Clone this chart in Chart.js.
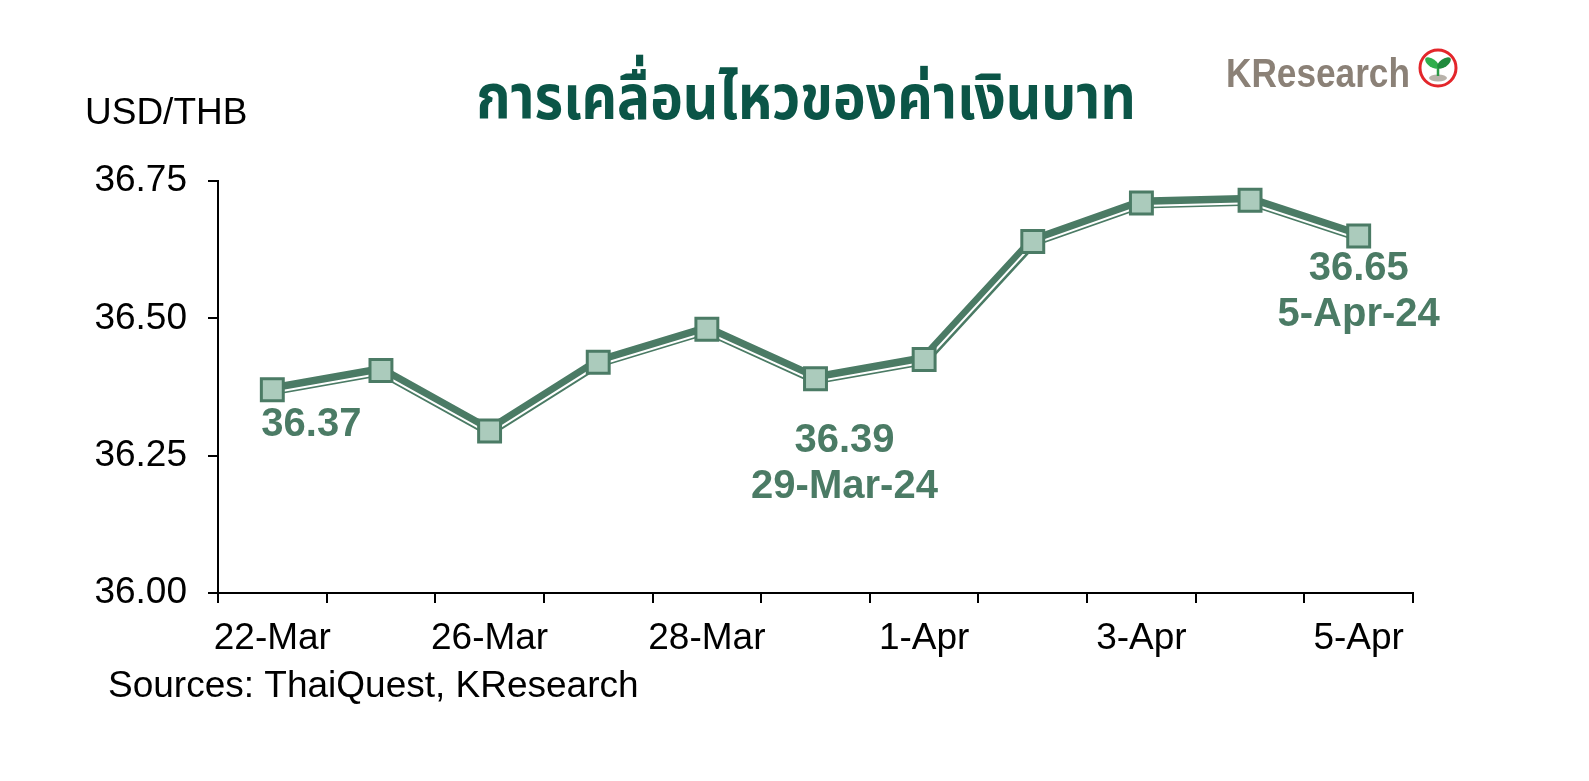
<!DOCTYPE html>
<html>
<head>
<meta charset="utf-8">
<script src="https://cdn.jsdelivr.net/npm/chart.js@4.4.1/dist/chart.umd.min.js"></script>
<style>
  html, body { margin: 0; padding: 0; background: #fff; }
  #wrap { width: 1589px; height: 781px; position: relative; }
</style>
</head>
<body>
<div id="wrap"><canvas id="chart"></canvas></div>
<script>
// categories (trading days) and USD/THB closing values
const dates = ['22-Mar', '25-Mar', '26-Mar', '27-Mar', '28-Mar', '29-Mar', '1-Apr', '2-Apr', '3-Apr', '4-Apr', '5-Apr'];
const fullDates = ['22-Mar-24', '25-Mar-24', '26-Mar-24', '27-Mar-24', '28-Mar-24', '29-Mar-24', '1-Apr-24', '2-Apr-24', '3-Apr-24', '4-Apr-24', '5-Apr-24'];
const thb = [36.37, 36.405, 36.295, 36.42, 36.48, 36.39, 36.425, 36.64, 36.71, 36.715, 36.65];
const yTicks = [36.00, 36.25, 36.50, 36.75];

// which points get a callout, and whether the date is shown too
const calloutIdx = [0, 5, 10];
const calloutShowDate = [false, true, true];

const titleText = 'การเคลื่อนไหวของค่าเงินบาท';
const unitText = 'USD/THB';
const sourceText = 'Sources: ThaiQuest, KResearch';

const green = '#4b7b65';
const markFill = '#abcbbc';
const font = "'Liberation Sans', Arial, sans-serif";

// white highlight line sits a little under the thick line
const offsetLine = {
  id: 'offsetLine',
  beforeDatasetDraw(chart, args) {
    if (args.index === 1) {
      chart.ctx.save();
      chart.ctx.translate(0, 3);
    }
  },
  afterDatasetDraw(chart, args) {
    if (args.index === 1) chart.ctx.restore();
  }
};

const extras = {
  id: 'extras',
  afterDraw(chart) {
    const ctx = chart.ctx;
    const xs = chart.scales.x, ys = chart.scales.y;
    ctx.save();

    // title (narrow, tall Thai face)
    ctx.save();
    ctx.translate(806, 119);
    ctx.scale(0.89, 1);
    ctx.fillStyle = '#0b5547';
    ctx.font = "bold 62px 'Noto Sans Thai', 'Noto Sans', 'DejaVu Sans', sans-serif";
    ctx.textAlign = 'center';
    ctx.textBaseline = 'alphabetic';
    ctx.fillText(titleText, 0, 0);
    ctx.restore();

    // unit label
    ctx.fillStyle = '#000';
    ctx.font = '37px ' + font;
    ctx.textAlign = 'left';
    ctx.fillText(unitText, 85, 124);

    // source
    ctx.font = '37px ' + font;
    ctx.fillText(sourceText, 108, 697);

    // callouts
    ctx.fillStyle = green;
    ctx.font = 'bold 40px ' + font;
    calloutIdx.forEach((i, k) => {
      const px = xs.getPixelForValue(i);
      const py = ys.getPixelForValue(thb[i]);
      const val = thb[i].toFixed(2);
      if (!calloutShowDate[k]) {
        ctx.textAlign = 'left';
        ctx.fillText(val, px - 11, py + 46);
      } else if (i === dates.length - 1) {
        ctx.textAlign = 'center';
        ctx.fillText(val, px, py + 44);
        ctx.fillText(fullDates[i], px, py + 90);
      } else {
        ctx.textAlign = 'center';
        ctx.fillText(val, px + 29, py + 73);
        ctx.fillText(fullDates[i], px + 29, py + 119);
      }
    });

    // logo
    ctx.save();
    ctx.translate(1226, 87);
    ctx.scale(0.88, 1);
    ctx.fillStyle = '#8b8177';
    ctx.font = 'bold 40px ' + font;
    ctx.textAlign = 'left';
    ctx.fillText('KResearch', 0, 0);
    ctx.restore();

    const cx = 1438, cy = 68;
    ctx.beginPath();
    ctx.arc(cx, cy, 18, 0, Math.PI * 2);
    ctx.fillStyle = '#fff';
    ctx.fill();
    ctx.lineWidth = 3;
    ctx.strokeStyle = '#e3262b';
    ctx.stroke();
    // soil
    ctx.fillStyle = '#b8b2aa';
    ctx.beginPath();
    ctx.ellipse(cx, cy + 10, 9, 3.5, 0, 0, Math.PI * 2);
    ctx.fill();
    // stem and leaves
    ctx.strokeStyle = '#2a9a46';
    ctx.lineWidth = 2.5;
    ctx.beginPath();
    ctx.moveTo(cx, cy + 8);
    ctx.lineTo(cx, cy - 1);
    ctx.stroke();
    ctx.fillStyle = '#2fae4c';
    ctx.beginPath();
    ctx.ellipse(cx - 6, cy - 5, 8, 4, Math.PI / 5, 0, Math.PI * 2);
    ctx.fill();
    ctx.fillStyle = '#1f8a3c';
    ctx.beginPath();
    ctx.ellipse(cx + 6, cy - 5, 8, 4, -Math.PI / 5, 0, Math.PI * 2);
    ctx.fill();

    ctx.restore();
  }
};

new Chart(document.getElementById('chart'), {
  type: 'line',
  data: {
    labels: dates,
    datasets: [
      {
        data: thb,
        borderColor: green,
        borderWidth: 11,
        pointRadius: 0,
        tension: 0,
        order: 3
      },
      {
        data: thb,
        borderColor: '#ffffff',
        borderWidth: 2,
        pointRadius: 0,
        tension: 0,
        order: 2
      },
      {
        data: thb,
        showLine: false,
        pointStyle: 'rect',
        pointRadius: 15.5,
        pointBackgroundColor: markFill,
        pointBorderColor: green,
        pointBorderWidth: 3,
        order: 1
      }
    ]
  },
  options: {
    responsive: true,
    maintainAspectRatio: false,
    animation: false,
    layout: { padding: { top: 181, right: 176, left: 0, bottom: 0 } },
    plugins: {
      legend: { display: false },
      tooltip: { enabled: false }
    },
    scales: {
      x: {
        offset: true,
        grid: { offset: true, drawOnChartArea: false, drawTicks: true, tickLength: 10, color: '#000', lineWidth: 2 },
        border: { color: '#000', width: 2 },
        ticks: {
          autoSkip: false,
          maxRotation: 0,
          padding: 14,
          color: '#000',
          font: { family: font, size: 37 },
          callback: (v, i) => (i % 2 === 0 ? dates[i] : '')
        },
        afterFit: (s) => { s.height = 188; }
      },
      y: {
        min: yTicks[0],
        max: yTicks[yTicks.length - 1],
        afterBuildTicks: (s) => { s.ticks = yTicks.map(v => ({ value: v })); },
        grid: { drawOnChartArea: false, drawTicks: true, tickLength: 10, color: '#000', lineWidth: 2 },
        border: { color: '#000', width: 2 },
        ticks: {
          padding: 21,
          color: '#000',
          font: { family: font, size: 37 },
          callback: (v) => Number(v).toFixed(2)
        },
        afterFit: (s) => { s.width = 218; }
      }
    }
  },
  plugins: [offsetLine, extras]
});
</script>
</body>
</html>
